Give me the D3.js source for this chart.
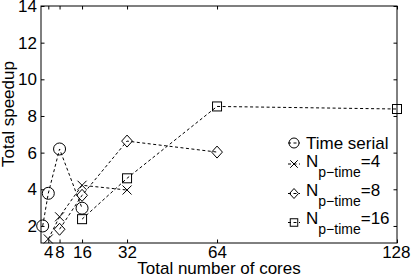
<!DOCTYPE html>
<html lang="en">
<head>
<meta charset="utf-8">
<title>Total speedup</title>
<script src="https://cdn.jsdelivr.net/npm/d3@7"></script>
<style>
  body { margin: 0; background: #fff; }
  svg text { font-family: "Liberation Sans", Arial, Helvetica, sans-serif; fill: #000; }
</style>
</head>
<body>
<div id="chart"></div>
<script>
// data
var xTicks = [4, 8, 16, 32, 64, 128];
var yTicks = [2, 4, 6, 8, 10, 12, 14];

var serialCores = [2, 4, 8, 16];
var serialSpeedup = [2.0, 3.78, 6.2, 2.97];
var p4Cores = [4, 8, 16, 32];
var p4Speedup = [1.29, 2.5, 4.22, 3.96];
var p8Cores = [8, 16, 32, 64];
var p8Speedup = [1.82, 3.67, 6.63, 6.03];
var p16Cores = [16, 32, 64, 128];
var p16Speedup = [2.37, 4.6, 8.52, 8.38];

var seriesLabels = ["Time serial", "4", "8", "16"];
var seriesMarkers = ["circle", "x", "diamond", "square"];

var W = 411, H = 278;
// plot box (note: "top" is taken by window.top)
var mLeft = 41, mRight = 397, mTop = 6, mBottom = 243;

var svg = d3.select("#chart").append("svg")
  .attr("width", W).attr("height", H);

var x = d3.scaleLinear().domain([1.4, 128]).range([mLeft, mRight]);
var y = d3.scaleLinear().domain([1.07, 14]).range([mBottom, mTop]);

// axes, ticks point inwards like matlab
var tl = 3.5;
svg.append("g").attr("transform", "translate(0," + mBottom + ")")
  .call(d3.axisBottom(x).tickValues(xTicks).tickSize(-tl).tickPadding(3).tickFormat(d3.format("d")))
  .call(function(g) { g.select(".domain").remove(); });
svg.append("g").attr("transform", "translate(0," + mTop + ")")
  .call(d3.axisTop(x).tickValues(xTicks).tickSize(-tl).tickFormat(""))
  .call(function(g) { g.select(".domain").remove(); });
svg.append("g").attr("transform", "translate(" + mLeft + ",0)")
  .call(d3.axisLeft(y).tickValues(yTicks).tickSize(-tl).tickPadding(4).tickFormat(d3.format("d")))
  .call(function(g) { g.select(".domain").remove(); });
svg.append("g").attr("transform", "translate(" + mRight + ",0)")
  .call(d3.axisRight(y).tickValues(yTicks).tickSize(-tl).tickFormat(""))
  .call(function(g) { g.select(".domain").remove(); });

svg.selectAll(".tick line").attr("stroke", "#000");
svg.selectAll(".tick text").attr("font-size", 17).attr("font-family", "Liberation Sans, Arial, sans-serif");
// matlab pushes 128 inside the window
svg.selectAll(".tick text").filter(function(d) { return d === 128; }).attr("text-anchor", "end").attr("dx", 13);

svg.append("rect")
  .attr("x", mLeft).attr("y", mTop)
  .attr("width", mRight - mLeft).attr("height", mBottom - mTop)
  .attr("fill", "none").attr("stroke", "#000").attr("stroke-width", 1);

// labels
svg.append("text")
  .attr("x", (mLeft + mRight) / 2).attr("y", 274)
  .attr("text-anchor", "middle").attr("font-size", 17)
  .text("Total number of cores");
svg.append("text")
  .attr("transform", "translate(14," + 114 + ") rotate(-90)")
  .attr("text-anchor", "middle").attr("font-size", 17)
  .text("Total speedup");

// marker drawing
function marker(g, type, cx, cy, s) {
  if (type === "circle") {
    g.append("circle").attr("cx", cx).attr("cy", cy).attr("r", s);
  } else if (type === "x") {
    var a = s * 0.75;
    g.append("path").attr("d", "M" + (cx - a) + "," + (cy - a) + "L" + (cx + a) + "," + (cy + a) +
      "M" + (cx - a) + "," + (cy + a) + "L" + (cx + a) + "," + (cy - a));
  } else if (type === "diamond") {
    g.append("path").attr("d", "M" + cx + "," + (cy - s) + "L" + (cx + s * 0.9) + "," + cy +
      "L" + cx + "," + (cy + s) + "L" + (cx - s * 0.9) + "," + cy + "Z");
  } else {
    var b = s * 0.75;
    g.append("rect").attr("x", cx - b).attr("y", cy - b).attr("width", 2 * b).attr("height", 2 * b);
  }
}

var series = [
  {xs: serialCores, ys: serialSpeedup},
  {xs: p4Cores, ys: p4Speedup},
  {xs: p8Cores, ys: p8Speedup},
  {xs: p16Cores, ys: p16Speedup}
];

var line = d3.line().x(function(d) { return x(d[0]); }).y(function(d) { return y(d[1]); });
var plot = svg.append("g").attr("fill", "none").attr("stroke", "#000").attr("stroke-width", 1);

series.forEach(function(s, i) {
  var pts = d3.zip(s.xs, s.ys);
  plot.append("path").attr("d", line(pts)).attr("stroke-dasharray", "3,2.5");
  var mg = plot.append("g");
  pts.forEach(function(p) { marker(mg, seriesMarkers[i], x(p[0]), y(p[1]), 6); });
});

// legend
var legY = [143, 164, 193.5, 222.5];
var baseY = [149, 167, 195.5, 223.5];
var lg = svg.append("g");
seriesLabels.forEach(function(lab, i) {
  var mg = lg.append("g").attr("fill", "none").attr("stroke", "#000").attr("stroke-width", 1);
  mg.append("line").attr("x1", 288).attr("x2", 300).attr("y1", legY[i]).attr("y2", legY[i])
    .attr("stroke-dasharray", "3,2.5");
  marker(mg, seriesMarkers[i], 294, legY[i], 5);
  var t = lg.append("text").attr("x", 306).attr("y", baseY[i]).attr("font-size", 17);
  if (i === 0) {
    t.text(lab);
  } else {
    t.append("tspan").text("N");
    t.append("tspan").attr("font-size", 14).attr("dy", 10).text("p\u2212time");
    t.append("tspan").attr("dy", -10).text("=" + lab);
  }
});
</script>
</body>
</html>
